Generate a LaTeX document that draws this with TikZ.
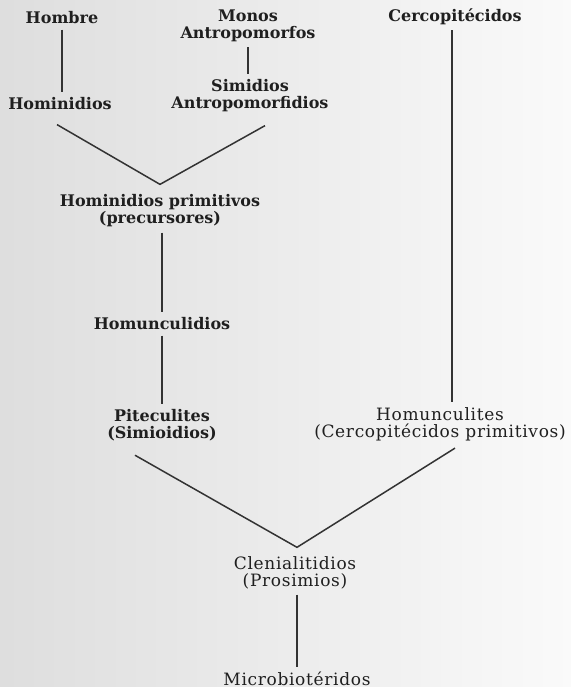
\documentclass[tikz,border=0pt]{standalone}
\usepackage{fontspec}
\setmainfont{DejaVu Serif}
\newfontfamily\widefont[LetterSpace=4]{DejaVu Serif}

\begin{document}
\begin{tikzpicture}[x=0.5pt,y=-0.5pt,
  tx/.style={inner sep=2.5pt,align=center,text=black!88,
    font=\fontsize{8}{8.5}\selectfont\bfseries},
  tl/.style={tx,font=\fontsize{8.5}{8.5}\selectfont\widefont},
  ln/.style={line width=0.75pt,black!80}]
  \fill[left color=black!13,right color=black!2] (0,0) rectangle (571,687);
  \useasboundingbox (0,0) rectangle (571,687);
  % upper row
  \node[tx] (hombre) at (62,18) {Hombre};
  \node[tx] (hominid) at (60,104) {Hominidios};
  \node[tx] (monos) at (248,26) {Monos\\Antropomorfos};
  \node[tx] (simid) at (250,96) {Simidios\\Antropomorfidios};
  \node[tx] (cerco) at (455,17) {Cercopitécidos};
  % middle
  \node[tx] (prim) at (160,211) {Hominidios primitivos\\(precursores)};
  \node[tx] (homcd) at (162,324) {Homunculidios};
  \node[tx] (pitec) at (162,425) {Piteculites\\(Simioidios)};
  \node[tl] (homcl) at (440,424) {Homunculites\\(Cercopitécidos primitivos)};
  % lower
  \node[tl] (clen) at (295,573) {Clenialitidios\\(Prosimios)};
  \node[tl] (micro) at (297,679) {Microbiotéridos};
  % lines
  \draw[ln] (hombre) -- (hombre |- hominid.north);
  \draw[ln] (monos.south) -- (monos.south |- simid.north);
  \draw[ln] ([xshift=-1.5pt,yshift=-4.5pt]hominid.south) -- ([yshift=2.5pt]prim.north)
    -- ([xshift=7.5pt,yshift=-4pt]simid.south);
  \draw[ln] ([xshift=1pt]prim.south) -- ([xshift=1pt]prim.south |- homcd.north);
  \draw[ln] (homcd.south) -- (homcd.south |- pitec.north);
  \draw[ln] ([xshift=-1.5pt]cerco.south) -- ([xshift=-1.5pt]cerco.south |- homcl.north);
  \draw[ln] ([xshift=-13.5pt,yshift=-4.5pt]pitec.south) -- ([xshift=1pt,yshift=2pt]clen.north)
    -- ([xshift=7.5pt,yshift=-1pt]homcl.south);
  \draw[ln] ([xshift=1pt]clen.south) -- ([xshift=1pt]clen.south |- micro.north);
\end{tikzpicture}
\end{document}
